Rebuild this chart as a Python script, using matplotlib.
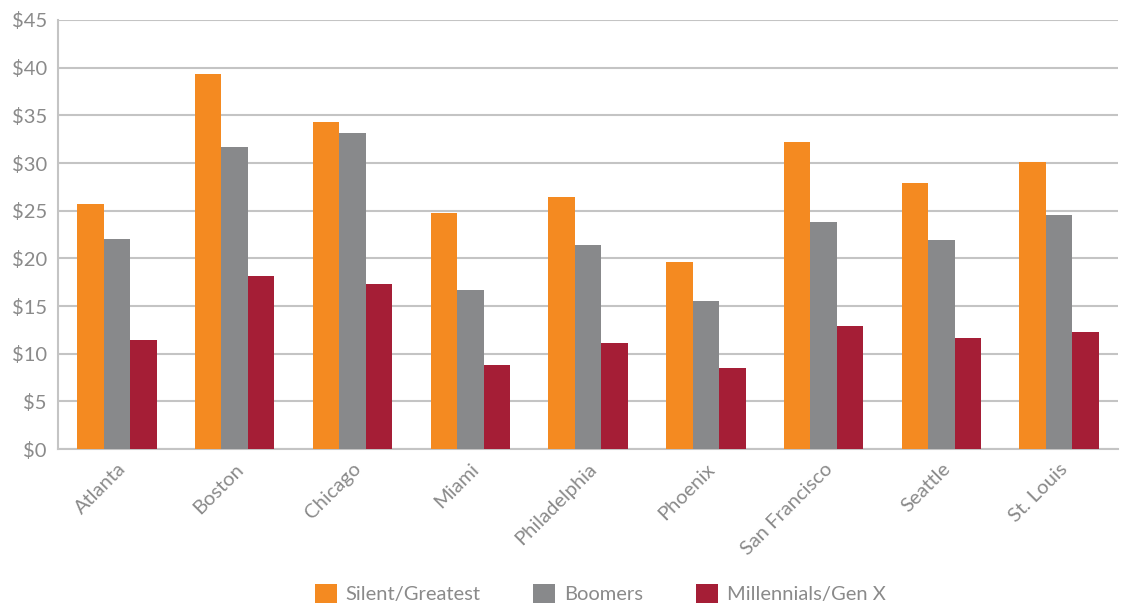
import matplotlib.pyplot as plt
import numpy as np

cities = ["Atlanta", "Boston", "Chicago", "Miami", "Philadelphia", "Phoenix",
          "San Francisco", "Seattle", "St. Louis"]
silent = [25.7, 39.3, 34.3, 24.8, 26.4, 19.6, 32.2, 27.9, 30.1]
boomers = [22.0, 31.7, 33.1, 16.7, 21.4, 15.5, 23.8, 21.9, 24.5]
millennials = [11.4, 18.1, 17.3, 8.8, 11.15, 8.5, 12.9, 11.6, 12.3]
series_names = ["Silent/Greatest", "Boomers", "Millennials/Gen X"]
yticks = list(range(0, 50, 5))

colors = ["#F48A21", "#88898B", "#A51E36"]
textcol = "#8a8a8a"
plt.rcParams["font.family"] = ["Lato", "DejaVu Sans"]

fig = plt.figure(figsize=(11.26, 6.06), dpi=100)
ax = fig.add_axes([0.0515, 0.259, 0.9415, 0.708])

x = np.arange(len(cities))
w = 0.225
for i, (vals, name) in enumerate(zip([silent, boomers, millennials], series_names)):
    ax.bar(x + (i - 1) * w, vals, w, color=colors[i], label=name, zorder=3)

ax.set_xlim(-0.5, len(cities) - 0.5)
ax.set_ylim(0, 45)
ax.set_yticks(yticks)
ax.set_yticklabels(["$%d" % v for v in yticks], fontsize=14.5, color=textcol)
ax.set_xticks(x)
ax.set_xticklabels(cities, rotation=45, ha="right", rotation_mode="anchor",
                   fontsize=14.5, color=textcol)
ax.tick_params(axis="both", length=0)
ax.tick_params(axis="y", pad=8)
ax.tick_params(axis="x", pad=8)

ax.grid(axis="y", color="#c4c4c4", linewidth=1.5, zorder=0)
for s in ["top", "right"]:
    ax.spines[s].set_visible(False)
for s in ["left", "bottom"]:
    ax.spines[s].set_color("#c4c4c4")
    ax.spines[s].set_linewidth(1.5)

leg = fig.legend(loc="lower center", bbox_to_anchor=(0.533, -0.025), ncol=3,
                 frameon=False, fontsize=14.5, handlelength=1.1, handleheight=1.1,
                 columnspacing=2.6, handletextpad=0.45)
for t in leg.get_texts():
    t.set_color(textcol)

fig.savefig("out.png", dpi=100)
